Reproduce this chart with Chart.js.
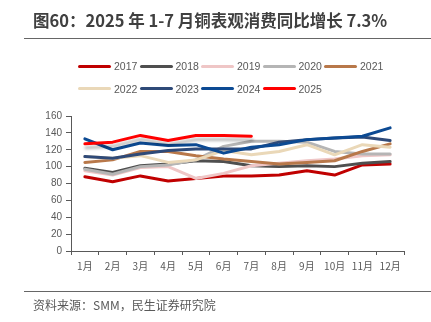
<!DOCTYPE html>
<html>
<head>
<meta charset="utf-8">
<script src="https://cdn.jsdelivr.net/npm/chart.js@4.4.1/dist/chart.umd.min.js"></script>
<style>
  html, body { margin: 0; padding: 0; background: #fff; }
  body { width: 431px; height: 322px; position: relative; overflow: hidden; font-family: "Noto Sans CJK SC", "Liberation Sans", sans-serif; }
  #c { position: absolute; left: 0; top: 0; }
  #title { position: absolute; left: 33px; top: 8px; font-size: 16.5px; font-weight: bold; color: #404040; white-space: nowrap; line-height: 24px; }
  #rule1 { position: absolute; left: 24px; top: 38px; width: 407px; height: 1px; background: #666; }
  #rule2 { position: absolute; left: 24px; top: 291px; width: 407px; height: 1px; background: #666; }
  #source { position: absolute; left: 33px; top: 296px; font-size: 12px; color: #595959; white-space: nowrap; line-height: 18px; }
  .lg { position: absolute; height: 14px; }
  .lg .ln { position: absolute; left: 0; top: 5.5px; width: 33px; height: 3px; border-radius: 2px; }
  .lg .tx { position: absolute; left: 36px; top: 0; font-family: "Liberation Sans", sans-serif; font-size: 10.5px; line-height: 14px; color: #595959; white-space: nowrap; }
</style>
</head>
<body>
<canvas id="c" width="431" height="322"></canvas>
<div id="title">图60：2025 年 1-7 月铜表观消费同比增长 7.3%</div>
<div id="rule1"></div>
<div id="legend"></div>
<div id="rule2"></div>
<div id="source">资料来源：SMM，民生证券研究院</div>
<script>
// ---- data ----
const months = ["1月","2月","3月","4月","5月","6月","7月","8月","9月","10月","11月","12月"];
const years = ["2017","2018","2019","2020","2021","2022","2023","2024","2025"];
const y2017 = [88, 82, 89, 83, 86, 89, 89, 90, 95, 90, 102, 103];
const y2018 = [98, 93, 101, 103, 107, 106, 101, 100, 101, 100, 104, 106];
const y2019 = [95, 90, 99, 100, 86, 92, 101, 104, 107, 109, 113, 114];
const y2020 = [97, 91, 100, 102, 108, 124, 130, 130, 129, 118, 115, 115];
const y2021 = [105, 108, 118, 118, 113, 109, 106, 103, 105, 107, 118, 127];
const y2022 = [112, 110, 113, 105, 108, 119, 114, 118, 126, 114, 126, 123];
const y2023 = [112, 110, 115, 119, 121, 121, 121, 129, 132, 134, 135, 131];
const y2024 = [133, 120, 128, 125, 126, 116, 123, 126, 132, 134, 136, 146];
const y2025 = [127, 129, 137, 131, 137, 137, 136];
const yTicks = { min: 0, max: 160, step: 20 };

const seriesValues = [y2017, y2018, y2019, y2020, y2021, y2022, y2023, y2024, y2025];
const colors = ["#c00000", "#4f4f4f", "#efc6c6", "#b5b5b5", "#b8784a", "#ead8b8", "#2f4a78", "#0c4a93", "#ff0000"];

// ---- legend (HTML) ----
const legend = document.getElementById('legend');
years.forEach((yr, i) => {
  const row = i < 5 ? 0 : 1;
  const col = i < 5 ? i : i - 5;
  const item = document.createElement('div');
  item.className = 'lg';
  item.style.left = (78 + col * 61.5) + 'px';
  item.style.top = (row === 0 ? 59 : 81.5) + 'px';
  const ln = document.createElement('div');
  ln.className = 'ln';
  ln.style.background = colors[i];
  const tx = document.createElement('div');
  tx.className = 'tx';
  tx.textContent = yr;
  item.appendChild(ln); item.appendChild(tx);
  legend.appendChild(item);
});

// ---- chart ----
const datasets = years.map((yr, i) => ({
  label: yr,
  data: seriesValues[i],
  borderColor: colors[i],
  backgroundColor: colors[i],
  borderWidth: 3,
  pointRadius: 0,
  pointHoverRadius: 0,
  tension: 0,
  fill: false,
  borderCapStyle: 'round',
  borderJoinStyle: 'round',
  order: years.length - 1 - i
}));

const shadowPlugin = {
  id: 'shadow2025',
  beforeDatasetDraw(chart, args) {
    if (chart.data.datasets[args.index].label === '2025') {
      const ctx = chart.ctx;
      ctx.save();
      ctx.shadowColor = 'rgba(0,0,0,0.28)';
      ctx.shadowBlur = 3;
      ctx.shadowOffsetX = 1;
      ctx.shadowOffsetY = 4;
    }
  },
  afterDatasetDraw(chart, args) {
    if (chart.data.datasets[args.index].label === '2025') {
      chart.ctx.restore();
    }
  }
};

const axisColor = '#595959';
new Chart(document.getElementById('c'), {
  type: 'line',
  data: { labels: months, datasets },
  plugins: [shadowPlugin],
  options: {
    responsive: false,
    animation: false,
    devicePixelRatio: 1,
    layout: { padding: { top: 116, left: 0, right: 27, bottom: 47 } },
    plugins: { legend: { display: false }, title: { display: false }, tooltip: { enabled: false } },
    scales: {
      x: {
        offset: true,
        grid: { offset: true, display: true, drawOnChartArea: false, drawTicks: true, tickLength: 4, color: axisColor },
        border: { display: true, color: axisColor, width: 1 },
        ticks: { color: axisColor, font: { size: 10, family: "'Noto Sans CJK SC', 'Liberation Sans', sans-serif" }, padding: 5, maxRotation: 0, autoSkip: false },
        afterFit(scale) { scale.height = 24; }
      },
      y: {
        min: yTicks.min,
        max: yTicks.max,
        ticks: { stepSize: yTicks.step, color: axisColor, font: { size: 10, family: "'Liberation Sans', sans-serif" }, padding: 4 },
        grid: { display: true, drawOnChartArea: false, drawTicks: true, tickLength: 5, color: axisColor },
        border: { display: true, color: axisColor, width: 1 },
        afterFit(scale) { scale.width = 71; }
      }
    }
  }
});
</script>
</body>
</html>
